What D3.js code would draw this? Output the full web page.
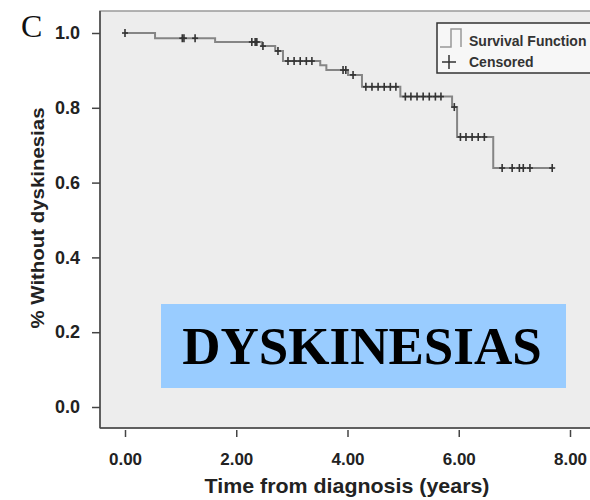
<!DOCTYPE html>
<html>
<head>
<meta charset="utf-8">
<script src="https://cdn.jsdelivr.net/npm/d3@7"></script>
<style>
  body { margin: 0; background: #fff; }
  svg { display: block; }
</style>
</head>
<body>
<script>
// Kaplan-Meier steps: time (years) where survival drops, and the new level
var stepTimes    = [0.54, 1.62, 2.46, 2.70, 2.84, 3.51, 3.62, 4.01, 4.26, 4.95, 5.88, 5.97, 6.62];
var stepSurvival = [0.986, 0.976, 0.965, 0.952, 0.925, 0.914, 0.901, 0.888, 0.856, 0.830, 0.802, 0.722, 0.639];
// censored observations (years)
var censorTimes = [0, 1.03, 1.06, 1.26, 2.28, 2.34, 2.37, 2.48, 2.75,
  2.93, 3.04, 3.15, 3.26, 3.36, 3.92, 3.97, 4.10,
  4.33, 4.44, 4.55, 4.66, 4.77, 4.87,
  5.04, 5.14, 5.25, 5.36, 5.47, 5.58, 5.68, 5.92,
  6.03, 6.13, 6.24, 6.35, 6.46,
  6.78, 6.96, 7.09, 7.16, 7.28, 7.68];
var lastTime = 7.68;
var xTicks = [0, 2, 4, 6, 8];
var yTicks = [0, 0.2, 0.4, 0.6, 0.8, 1.0];

var width = 590, height = 500;
var sans = 'Arial, "Liberation Sans", sans-serif';
var svg = d3.select('body').append('svg')
  .attr('width', width)
  .attr('height', height);

var x = d3.scaleLinear().domain([0, 8]).range([125, 570]);
var y = d3.scaleLinear().domain([0, 1]).range([407, 33]);

// plot frame
var plotLeft = 100, plotTop = 11, plotBottom = 428;
svg.append('rect')
  .attr('x', plotLeft).attr('y', plotTop)
  .attr('width', width - plotLeft + 5).attr('height', plotBottom - plotTop)
  .style('fill', '#ededed')
  .style('stroke', '#9a9a9a')
  .style('stroke-width', 1.5);
svg.append('line')
  .attr('x1', plotLeft).attr('x2', plotLeft)
  .attr('y1', plotTop).attr('y2', plotBottom)
  .style('stroke', '#444').style('stroke-width', 1.5);
svg.append('line')
  .attr('x1', plotLeft).attr('x2', width)
  .attr('y1', plotBottom).attr('y2', plotBottom)
  .style('stroke', '#444').style('stroke-width', 1.5);

// y axis
var yAxis = d3.axisLeft(y).tickValues(yTicks).tickSize(8).tickPadding(12)
  .tickFormat(d3.format('.1f'));
var gy = svg.append('g').attr('transform', 'translate(' + plotLeft + ',0)').call(yAxis);
gy.select('.domain').remove();
gy.selectAll('line').style('stroke', '#444').style('stroke-width', 1.5);
gy.selectAll('text')
  .style('font-family', sans)
  .style('font-weight', 'bold')
  .style('font-size', '18px')
  .style('fill', '#222');

// x axis (ticks sit below the frame line)
var xAxis = d3.axisBottom(x).tickValues(xTicks).tickSize(7).tickPadding(16)
  .tickFormat(d3.format('.2f'));
var gx = svg.append('g').attr('transform', 'translate(0,' + (plotBottom + 2) + ')').call(xAxis);
gx.select('.domain').remove();
gx.selectAll('line').style('stroke', '#444').style('stroke-width', 1.5);
gx.selectAll('text')
  .style('font-family', sans)
  .style('font-weight', 'bold')
  .style('font-size', '17px')
  .style('fill', '#222');

// axis titles
svg.append('text')
  .attr('x', 347).attr('y', 493)
  .attr('text-anchor', 'middle')
  .attr('textLength', 285)
  .attr('lengthAdjust', 'spacingAndGlyphs')
  .style('font-family', sans)
  .style('font-weight', 'bold')
  .style('font-size', '21px')
  .style('fill', '#222')
  .text('Time from diagnosis (years)');

svg.append('text')
  .attr('transform', 'translate(44,218) rotate(-90)')
  .attr('text-anchor', 'middle')
  .attr('textLength', 221)
  .attr('lengthAdjust', 'spacingAndGlyphs')
  .style('font-family', sans)
  .style('font-weight', 'bold')
  .style('font-size', '19px')
  .style('fill', '#222')
  .text('% Without dyskinesias');

// panel letter
svg.append('text')
  .attr('x', 21).attr('y', 37)
  .style('font-family', '"Liberation Serif", "Times New Roman", serif')
  .style('font-size', '32px')
  .style('fill', '#111')
  .text('C');

// survival curve
var pts = [[0, 1]];
stepTimes.forEach(function(t, i) { pts.push([t, stepSurvival[i]]); });
pts.push([lastTime, stepSurvival[stepSurvival.length - 1]]);

var line = d3.line()
  .x(function(d) { return x(d[0]); })
  .y(function(d) { return y(d[1]); })
  .curve(d3.curveStepAfter);

svg.append('path')
  .datum(pts)
  .attr('d', line)
  .style('fill', 'none')
  .style('stroke', '#858585')
  .style('stroke-width', 2);

function survivalAt(t) {
  var s = 1;
  stepTimes.forEach(function(st, i) { if (st <= t) s = stepSurvival[i]; });
  return s;
}

var cens = svg.append('g').selectAll('g')
  .data(censorTimes)
  .enter().append('g')
  .attr('transform', function(d) { return 'translate(' + x(d) + ',' + y(survivalAt(d)) + ')'; });
cens.append('line').attr('x1', 0).attr('x2', 0).attr('y1', -4).attr('y2', 4)
  .style('stroke', '#333').style('stroke-width', 1.6);
cens.append('line').attr('x1', -3).attr('x2', 3).attr('y1', 0).attr('y2', 0)
  .style('stroke', '#333').style('stroke-width', 1.6);

// legend
var lg = svg.append('g');
lg.append('rect')
  .attr('x', 437).attr('y', 23).attr('width', 170).attr('height', 50)
  .style('fill', '#f7f7f7').style('stroke', '#333').style('stroke-width', 1.5);
lg.append('path')
  .attr('d', 'M440,47 H451 V29 H461 V47')
  .style('fill', 'none').style('stroke', '#999').style('stroke-width', 1.5);
lg.append('line').attr('x1', 442).attr('x2', 456).attr('y1', 62).attr('y2', 62)
  .style('stroke', '#333').style('stroke-width', 1.5);
lg.append('line').attr('x1', 449).attr('x2', 449).attr('y1', 55).attr('y2', 69)
  .style('stroke', '#333').style('stroke-width', 1.5);
lg.append('text').attr('x', 469).attr('y', 46)
  .style('font-family', sans)
  .style('font-weight', 'bold').style('font-size', '14px').style('fill', '#333')
  .text('Survival Function');
lg.append('text').attr('x', 469).attr('y', 67)
  .style('font-family', sans)
  .style('font-weight', 'bold').style('font-size', '14px').style('fill', '#333')
  .text('Censored');

// label box
svg.append('rect')
  .attr('x', 161).attr('y', 304).attr('width', 405).attr('height', 84)
  .style('fill', '#99ccff');
svg.append('text')
  .attr('x', 362).attr('y', 364)
  .attr('text-anchor', 'middle')
  .style('font-family', '"Liberation Serif", "Times New Roman", serif')
  .style('font-weight', 'bold')
  .style('font-size', '53px')
  .style('fill', '#000')
  .text('DYSKINESIAS');
</script>
</body>
</html>
